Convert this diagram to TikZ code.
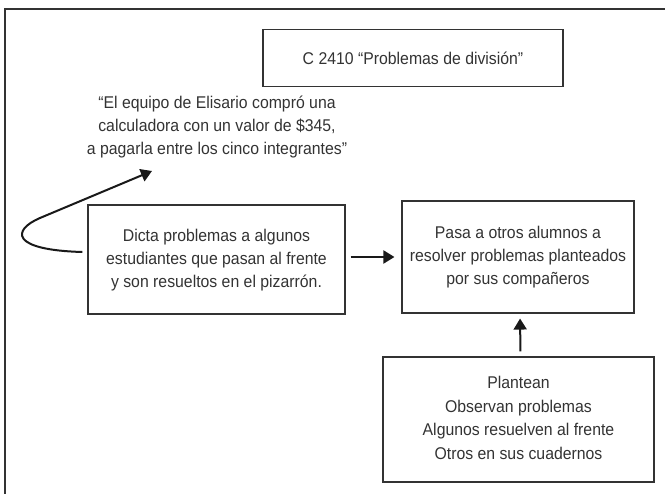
\documentclass[tikz,border=0pt]{standalone}
\usepackage{fontspec}
\setmainfont{Liberation Sans}[FakeStretch=0.93]
\usetikzlibrary{arrows.meta}
\definecolor{ink}{HTML}{333333}
\tikzset{
  box/.style={draw=ink, line width=1.1pt, align=center, text=ink, font=\fontsize{17}{23}\selectfont, inner sep=0pt},
  note/.style={align=center, text=ink, font=\fontsize{17}{23}\selectfont, inner sep=0pt},
  arr/.style={line width=2pt, draw=black!90, -{Triangle[length=11pt,width=13pt]}}
}
\begin{document}
\begin{tikzpicture}[x=1pt,y=-1pt]
\useasboundingbox (0,0) rectangle (665,494);
% outer frame (clipped)
\draw[draw=ink, line width=1.4pt] (5,494) -- (5,9) -- (666,9);
% nodes
\node[box, minimum width=300pt, minimum height=57.5pt] (title) at (413,58) {\raisebox{-4.5pt}{C 2410 “Problemas de división”}};
\node[note] (quote) at (217,127) {“El equipo de Elisario compró una\\calculadora con un valor de \$345,\\a pagarla entre los cinco integrantes”};
\node[box, minimum width=257pt, minimum height=109pt] (dicta) at (216.5,259.5) {\raisebox{-4pt}{\begin{tabular}{@{}c@{}}Dicta problemas a algunos\\estudiantes que pasan al frente\\y son resueltos en el pizarrón.\end{tabular}}};
\node[box, minimum width=232pt, minimum height=112pt] (pasa) at (518,257) {\raisebox{-2pt}{\begin{tabular}{@{}c@{}}Pasa a otros alumnos a\\resolver problemas planteados\\por sus compañeros\end{tabular}}};
\node[box, minimum width=271pt, minimum height=125pt, font=\fontsize{17}{23.5}\selectfont] (plan) at (518.5,419.5) {\raisebox{-11pt}{\begin{tabular}{@{}c@{}}Plantean\\Observan problemas\\Algunos resuelven al frente\\Otros en sus cuadernos\end{tabular}}};
\coordinate (tip) at (152,171);
\coordinate (dictaw) at ([yshift=7.5pt, xshift=-5pt]dicta.west);
% connectors
\draw[line width=2pt, draw=black!90, -{Triangle[length=11pt,width=13pt]}]
  (dictaw) .. controls (10,250) and (12,230) .. (40,218) -- (tip);
\draw[arr, shorten <=5pt, shorten >=7pt] (dicta.east |- pasa.west) -- (pasa.west);
\draw[arr, shorten <=5pt, shorten >=5pt] ([xshift=2pt]plan.north) -- ([xshift=2pt]pasa.south);
\end{tikzpicture}
\end{document}
